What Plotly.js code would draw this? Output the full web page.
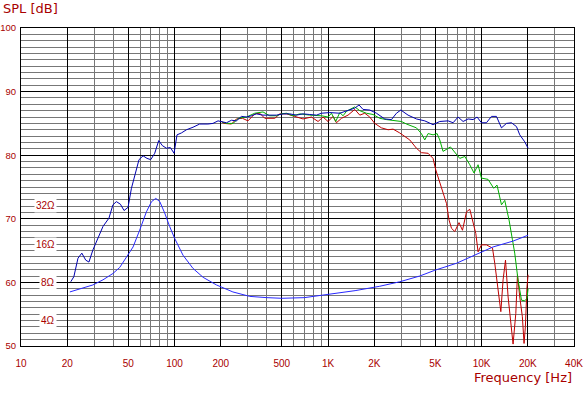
<!DOCTYPE html>
<html>
<head>
<meta charset="utf-8">
<script src="https://cdn.plot.ly/plotly-3.0.1.min.js"></script>
<style>html,body{margin:0;padding:0;background:#fff;}#chart{width:585px;height:395px;}</style>
</head>
<body>
<div id="chart"></div>
<script>
// ---- Data ----
const onAxisFreq = [21.1,22.1,23.5,24.9,26.4,27.7,29.4,31.7,34.2,37.4,39.7,41.8,44.4,46.9,49.8,52.4,55.1,58.7,62.4,66.2,70,74.3,78.9,83.4,88.5,94,99.3,103.8,110.9,119.6,132,145.8,165,178,192,202,218,235,253,273,294,317,341,377,417,461,510,563,622,687,760,840,906,1026,1192,1350,1493,1592,1690,1870,2067,2340,2588,2790,2978,3320,3764,4266,4831,5343,6053,6523,7030,7580,8170,8800,9350,9980,10760,11600,12500,13480,14530,15660,16880,17730,19110,20090];
const onAxisDb = [60.1,60.9,63.8,64.6,63.5,63.2,65.1,66.9,68.8,70.1,72.2,72.7,72.3,71.3,71.8,74.8,76.9,79.3,79.9,79.5,79.3,80.3,82.3,81.5,81.1,81.2,80.3,83.2,83.5,84.0,84.4,84.9,84.9,85.0,85.4,85.3,85.1,85.5,85.4,86.1,86.0,86.2,86.5,86.3,86.3,86.3,86.5,86.5,86.3,86.5,86.4,86.3,86.6,86.7,86.6,87.0,87.4,87.9,87.2,87.1,86.6,85.7,85.6,86.6,87.1,86.3,85.7,85.4,84.8,85.3,85.4,85.1,86.0,85.3,85.7,85.6,86.0,85.1,85.1,86.1,86.1,84.3,85.0,85.1,84.5,83.2,82.1,81.1];

const offAxis1Freq = [205,218,241,260,294,333,377,417,461,497,536,591,655,760,906,1000,1052,1122,1192,1253,1318,1493,1610,1778,1963,2172,2400,2790,3006,3243,3764,4055,4266,4484,4831,5130,5343,5610,6270,7210,7780,8380,8930,9490,9980,11020,12000,12610,13480,14160,15100,15890,16440,17280,18200,19110,19770,20090];
const offAxis1Db = [85.2,85.0,85.0,85.8,86.0,86.6,86.8,86.2,86.2,86.5,86.6,86.2,86.5,86.3,86.2,86.0,86.6,85.3,86.7,86.2,86.9,87.6,87.0,86.6,86.4,85.8,85.6,85.4,85.3,84.9,84.3,83.4,82.4,83.4,83.2,83.4,82.4,80.6,81.3,79.5,79.8,78.5,77.2,78.5,76.4,76.2,74.8,75.3,72.2,72.9,69.8,66.7,64.6,60.4,57.2,57.1,57.5,59.0];

const offAxis2Freq = [202,210,235,253,277,301,333,359,387,450,485,536,607,687,780,861,928,1000,1078,1134,1223,1350,1493,1610,1735,1870,2014,2227,2462,2653,2931,3406,3764,4055,4484,4831,5030,5343,5680,5910,6140,6370,6690,7130,7510,7980,8380,8730,9170,9490,9980,10760,11780,12190,12820,13350,13810,14320,14890,15500,16040,16710,17130,17730,18440,18910,19290,19770,20090];
const offAxis2Db = [85.3,85.0,84.9,85.7,85.8,85.4,86.5,86.6,85.8,85.8,86.5,86.5,86.1,85.7,86.0,85.3,86.0,85.3,86.1,85.1,85.8,86.3,87.2,86.3,86.6,86.0,85.0,84.3,84.0,84.1,83.5,82.4,81.1,80.4,80.3,79.5,77.7,75.6,73.7,72.4,69.8,68.5,68.0,69.4,68.2,71.1,71.5,69.8,67.7,64.8,65.9,65.9,65.4,63.0,58.8,55.4,60.4,63.5,57.7,53.0,50.3,55.1,61.2,57.7,54.6,50.4,53.0,59.3,61.2];

const impFreq = [20.8,25.4,29.4,34.2,39.7,44.0,48.6,53.7,59.3,65.6,70.8,75.5,80.2,86.3,93.0,100.3,113.5,132,153.5,187.5,240,309,400,500,700,1000,1500,2172,2931,3955,4955,6850,9730,11880,16040,20090];
const impOhm = [6.73,7.21,7.64,8.38,9.40,10.5,12.7,15.2,20.6,28.7,34.5,36.6,34.5,28.1,22.0,17.7,13.1,10.3,8.77,7.64,6.73,6.21,6.07,6.0,6.07,6.43,6.89,7.46,8.09,8.98,9.96,11.3,13.6,15.2,16.9,18.8];

const xMajorVals = [10,20,50,100,200,500,1000,2000,5000,10000,20000,40000];
const xMajorText = ['10','20','50','100','200','500','1K','2K','5K','10K','20K','40K'];
const xMinorVals = [30,40,60,70,80,90,300,400,600,700,800,900,3000,4000,6000,7000,8000,9000,30000];
const impLabelVals = [32,16,8,4];
const impLabelText = ['32Ω','16Ω','8Ω','4Ω'];

// ---- Styling ----
const RED = '#a80000';
const tickFont = {family:'Liberation Sans, Arial, sans-serif', size:10, color:RED};
const yTickFont = {family:'Liberation Sans, Arial, sans-serif', size:9.5, color:RED};

const traces = [
  {x:impFreq, y:impOhm, yaxis:'y2', type:'scatter', mode:'lines', line:{color:'#2828ff', width:1}, hoverinfo:'skip'},
  {x:offAxis2Freq, y:offAxis2Db, type:'scatter', mode:'lines', line:{color:'#c00000', width:1}, hoverinfo:'skip'},
  {x:offAxis1Freq, y:offAxis1Db, type:'scatter', mode:'lines', line:{color:'#00b000', width:1}, hoverinfo:'skip'},
  {x:onAxisFreq, y:onAxisDb, type:'scatter', mode:'lines', line:{color:'#0000b0', width:1}, hoverinfo:'skip'}
];

const annotations = [
  {text:'SPL [dB]', xref:'paper', yref:'paper', x:-20/553, y:1+19/318, xanchor:'left', yanchor:'middle', showarrow:false, font:{family:'DejaVu Sans', size:13, color:RED}},
  {text:'Frequency [Hz]', xref:'paper', yref:'paper', x:1.0, y:-31/318, xanchor:'right', yanchor:'middle', showarrow:false, font:{family:'DejaVu Sans', size:13, color:RED}}
];
impLabelVals.forEach((v,i)=>{
  annotations.push({text:impLabelText[i], xref:'paper', yref:'y2', x:36/553, y:Math.log10(v), xanchor:'right', yanchor:'middle', showarrow:false, bgcolor:'#ffffff', borderpad:1, font:{family:'Liberation Sans, Arial, sans-serif', size:10, color:RED}});
});

const layout = {
  width:585, height:395,
  margin:{l:21, r:11, t:28, b:49, pad:0},
  paper_bgcolor:'#ffffff', plot_bgcolor:'#ffffff',
  showlegend:false,
  xaxis:{type:'log', range:[1, Math.log10(40000)], tickmode:'array', tickvals:xMajorVals, ticktext:xMajorText,
    showgrid:true, gridcolor:'#000000', gridwidth:1, ticks:'', ticklen:0, tickfont:tickFont, ticklabelstandoff:8,
    showline:true, linecolor:'#000000', linewidth:1, mirror:true, zeroline:false,
    minor:{tickmode:'array', tickvals:xMinorVals, showgrid:true, gridcolor:'#777777', gridwidth:1, ticks:''}},
  yaxis:{range:[50,100], tickmode:'linear', tick0:0, dtick:10, showgrid:true, gridcolor:'#000000', gridwidth:1,
    ticks:'', ticklen:0, tickfont:yTickFont, ticklabelstandoff:2, showline:true, linecolor:'#000000', linewidth:1, mirror:true, zeroline:false,
    minor:{tickmode:'linear', tick0:0, dtick:1, showgrid:true, gridcolor:'#777777', gridwidth:1, ticks:''}},
  yaxis2:{type:'log', overlaying:'y', side:'right', range:[Math.log10(8*Math.pow(10,-0.5)), Math.log10(800)],
    showgrid:false, showticklabels:false, ticks:'', zeroline:false, showline:false},
  annotations:annotations
};

Plotly.newPlot('chart', traces, layout, {staticPlot:true, displayModeBar:false});
</script>
</body>
</html>
